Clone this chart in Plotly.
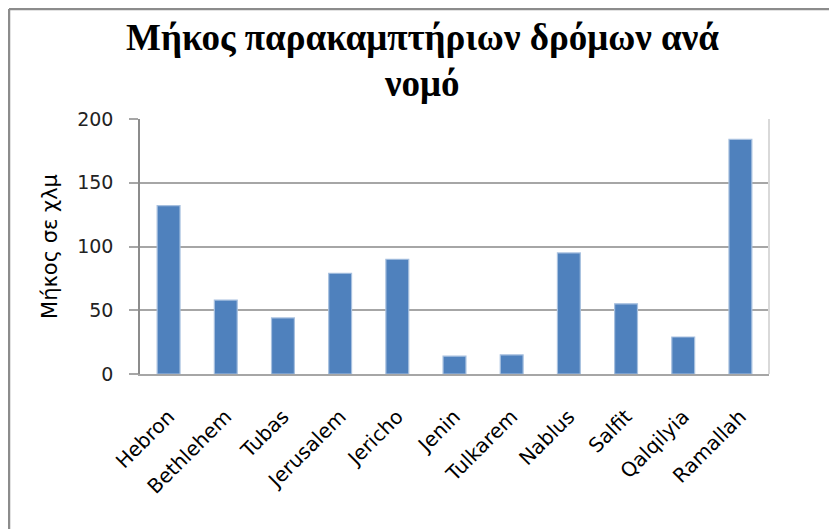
import plotly.graph_objects as go

# data
districts = ['Hebron', 'Bethlehem', 'Tubas', 'Jerusalem', 'Jericho', 'Jenin',
             'Tulkarem', 'Nablus', 'Salfit', 'Qalqilyia', 'Ramallah']
length_km = [132, 58, 44, 79, 90, 14, 15, 95, 55, 29, 184]
y_ticks = [0, 50, 100, 150, 200]

TITLE_LINES = ['Μήκος παρακαμπτήριων δρόμων ανά', 'νομό']
Y_TITLE = 'Μήκος σε χλμ'

# page has an 8px body margin, so the figure is a bit smaller than the window
W, H = 829, 521
M = dict(l=132, r=68, t=111, b=155)
PW = W - M['l'] - M['r']
PH = H - M['t'] - M['b']

SANS = '"DejaVu Sans", "Noto Sans", sans-serif'
SERIF = '"Liberation Serif", "Times New Roman", serif'

fig = go.Figure(go.Bar(
    x=districts,
    y=length_km,
    marker=dict(color='#4f81bd', line=dict(color='#a7c0df', width=1.2)),
))

fig.update_layout(
    width=W, height=H,
    margin=M,
    paper_bgcolor='white',
    plot_bgcolor='white',
    bargap=0.6,
    showlegend=False,
    font=dict(family=SANS, color='black'),
)

# two-line title, placed as annotations for exact line spacing
for line, y_px in zip(TITLE_LINES, [29, 75]):
    fig.add_annotation(
        text=f'<b>{line}</b>', showarrow=False,
        xref='paper', yref='paper',
        x=(414 - M['l']) / PW, y=1 + (M['t'] - y_px) / PH,
        xanchor='center', yanchor='middle',
        font=dict(family=SERIF, size=37, color='black'),
    )

fig.update_yaxes(
    range=[0, 200],
    tickvals=y_ticks,
    tickfont=dict(size=19, family=SANS, color='#222'),
    ticklabelstandoff=12,
    showgrid=True, gridcolor='#a6a6a6', gridwidth=1.5,
    ticks='outside', ticklen=9, tickcolor='#a6a6a6', tickwidth=1.5,
    showline=True, linecolor='#8c8c8c', linewidth=1.5,
    zeroline=False,
    title=dict(text=Y_TITLE, font=dict(size=21, family=SANS, color='black'),
               standoff=14),
)
fig.update_xaxes(
    tickangle=-45,
    tickfont=dict(size=20, family=SANS, color='black'),
    ticklabelstandoff=21,
    showline=True, linecolor='#a6a6a6', linewidth=2,
    showgrid=False,
    ticks='',
)

# plot area right border and outer chart frame
fig.add_shape(type='line', xref='paper', yref='paper', x0=1, x1=1, y0=0, y1=1,
              line=dict(color='#d9d9d9', width=2))
fl = (1 - M['l']) / PW
ft = 1 + (M['t'] - 1) / PH
fb = -(M['b'] + 5) / PH
fr = 1 + (M['r'] + 5) / PW
fig.add_shape(type='line', xref='paper', yref='paper', x0=fl, x1=fl, y0=fb, y1=ft,
              line=dict(color='#8c8c8c', width=2.5))
fig.add_shape(type='line', xref='paper', yref='paper', x0=fl, x1=fr, y0=ft, y1=ft,
              line=dict(color='#8c8c8c', width=2.5))

fig.write_html('out.html')
